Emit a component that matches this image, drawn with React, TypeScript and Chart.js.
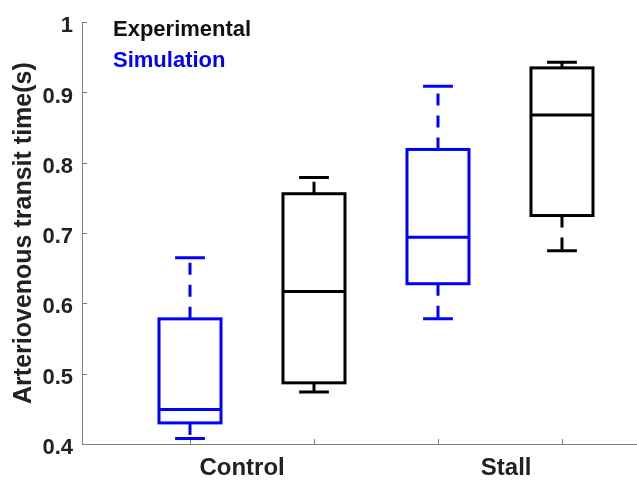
import React, { useEffect, useRef } from "react";
import { Chart, registerables } from "chart.js";

Chart.register(...registerables);

// ---- data ----
const groupLabels = ["Control", "Stall"];
const groupLabelPositions = [1.42, 3.55];
const boxPositions = [1, 2, 3, 4];
const boxSeries = ["Simulation", "Experimental", "Simulation", "Experimental"];
const whiskerLow = [0.408, 0.474, 0.578, 0.675];
const quartile1 = [0.43, 0.487, 0.628, 0.725];
const medians = [0.449, 0.617, 0.694, 0.868];
const quartile3 = [0.578, 0.756, 0.819, 0.935];
const whiskerHigh = [0.665, 0.779, 0.909, 0.943];
const yTickValues = [0.4, 0.5, 0.6, 0.7, 0.8, 0.9, 1];
const legendItems = ["Experimental", "Simulation"];

const seriesColor: Record<string, string> = {
  Experimental: "#000000",
  Simulation: "#0000ff",
};
const BOX_WIDTH = 0.5;
const CAP_WIDTH = 0.24;
const AXIS_COLOR = "#808080";
const TEXT_COLOR = "#222222";
const FONT = "Arial, 'Liberation Sans', Helvetica, sans-serif";

const boxPlugin = {
  id: "boxPlugin",
  afterDatasetsDraw(chart: any) {
    const { ctx, scales, chartArea } = chart;
    const xs = scales.x;
    const ys = scales.y;
    ctx.save();
    // inward tick marks
    ctx.strokeStyle = AXIS_COLOR;
    ctx.lineWidth = 1;
    ctx.setLineDash([]);
    yTickValues.forEach((v) => {
      const py = Math.round(ys.getPixelForValue(v)) + 0.5;
      ctx.beginPath();
      ctx.moveTo(chartArea.left, py);
      ctx.lineTo(chartArea.left + 5, py);
      ctx.stroke();
    });
    boxPositions.forEach((v) => {
      const px = Math.round(xs.getPixelForValue(v)) + 0.5;
      ctx.beginPath();
      ctx.moveTo(px, chartArea.bottom);
      ctx.lineTo(px, chartArea.bottom - 5);
      ctx.stroke();
    });

    // boxes
    boxPositions.forEach((pos, i) => {
      const color = seriesColor[boxSeries[i]];
      const cx = xs.getPixelForValue(pos);
      const x0 = xs.getPixelForValue(pos - BOX_WIDTH / 2);
      const x1 = xs.getPixelForValue(pos + BOX_WIDTH / 2);
      const c0 = xs.getPixelForValue(pos - CAP_WIDTH / 2);
      const c1 = xs.getPixelForValue(pos + CAP_WIDTH / 2);
      const yq1 = ys.getPixelForValue(quartile1[i]);
      const yq3 = ys.getPixelForValue(quartile3[i]);
      const ymed = ys.getPixelForValue(medians[i]);
      const ylo = ys.getPixelForValue(whiskerLow[i]);
      const yhi = ys.getPixelForValue(whiskerHigh[i]);
      ctx.strokeStyle = color;
      ctx.lineWidth = 3;
      ctx.lineJoin = "miter";
      ctx.setLineDash([]);
      ctx.strokeRect(x0, yq3, x1 - x0, yq1 - yq3);
      ctx.beginPath();
      ctx.moveTo(x0, ymed);
      ctx.lineTo(x1, ymed);
      ctx.stroke();
      // caps
      ctx.beginPath();
      ctx.moveTo(c0, yhi);
      ctx.lineTo(c1, yhi);
      ctx.moveTo(c0, ylo);
      ctx.lineTo(c1, ylo);
      ctx.stroke();
      // dashed whiskers from box outward
      ctx.setLineDash([12, 10]);
      ctx.beginPath();
      ctx.moveTo(cx, yq3);
      ctx.lineTo(cx, yhi);
      ctx.stroke();
      ctx.beginPath();
      ctx.moveTo(cx, yq1);
      ctx.lineTo(cx, ylo);
      ctx.stroke();
    });

    // legend text annotations
    ctx.setLineDash([]);
    ctx.font = `bold 22px ${FONT}`;
    ctx.textAlign = "left";
    ctx.textBaseline = "alphabetic";
    legendItems.forEach((name, i) => {
      ctx.fillStyle = name === "Experimental" ? "#111111" : seriesColor[name];
      ctx.fillText(name, 113, 36 + i * 31);
    });
    ctx.restore();
  },
};

export default function App() {
  const canvasRef = useRef<HTMLCanvasElement | null>(null);

  useEffect(() => {
    if (!canvasRef.current) return;
    const chart = new Chart(canvasRef.current, {
      type: "scatter",
      data: {
        datasets: [
          {
            label: "median",
            data: boxPositions.map((p, i) => ({ x: p, y: medians[i] })),
            pointRadius: 0,
            showLine: false,
          },
        ],
      },
      options: {
        animation: false,
        responsive: false,
        devicePixelRatio: 1,
        layout: { padding: { top: 17, left: 0, right: 0, bottom: 0 } },
        plugins: {
          legend: { display: false },
          tooltip: { enabled: false },
        },
        scales: {
          x: {
            type: "linear",
            min: 0.129,
            max: 4.605,
            grid: { display: false, drawTicks: false },
            border: { display: true, color: AXIS_COLOR, width: 1 },
            afterBuildTicks: (scale: any) => {
              scale.ticks = groupLabelPositions.map((v) => ({ value: v }));
            },
            afterFit: (scale: any) => {
              scale.height = 39;
            },
            ticks: {
              autoSkip: false,
              maxRotation: 0,
              padding: 10,
              color: TEXT_COLOR,
              font: { family: FONT, size: 24, weight: "bold" },
              callback: (_v: any, idx: number) => groupLabels[idx],
            },
          },
          y: {
            type: "linear",
            min: 0.4,
            max: 1,
            grid: { display: false, drawTicks: false },
            border: { display: true, color: AXIS_COLOR, width: 1 },
            afterBuildTicks: (scale: any) => {
              scale.ticks = yTickValues.map((v) => ({ value: v }));
            },
            afterFit: (scale: any) => {
              scale.width = 82;
            },
            ticks: {
              padding: 9,
              labelOffset: 4,
              color: TEXT_COLOR,
              font: { family: FONT, size: 22, weight: "bold" },
              callback: (v: any) => String(Math.round(Number(v) * 10) / 10),
            },
            title: {
              display: true,
              text: "Arteriovenous transit time(s)",
              color: TEXT_COLOR,
              padding: { top: 9, bottom: 0 },
              font: { family: FONT, size: 25, weight: "bold" },
            },
          },
        },
      },
      plugins: [boxPlugin],
    });
    return () => chart.destroy();
  }, []);

  return (
    <div style={{ position: "absolute", left: 0, top: 0, width: 637, height: 483, background: "#fff" }}>
      <canvas ref={canvasRef} width={637} height={483} />
    </div>
  );
}
